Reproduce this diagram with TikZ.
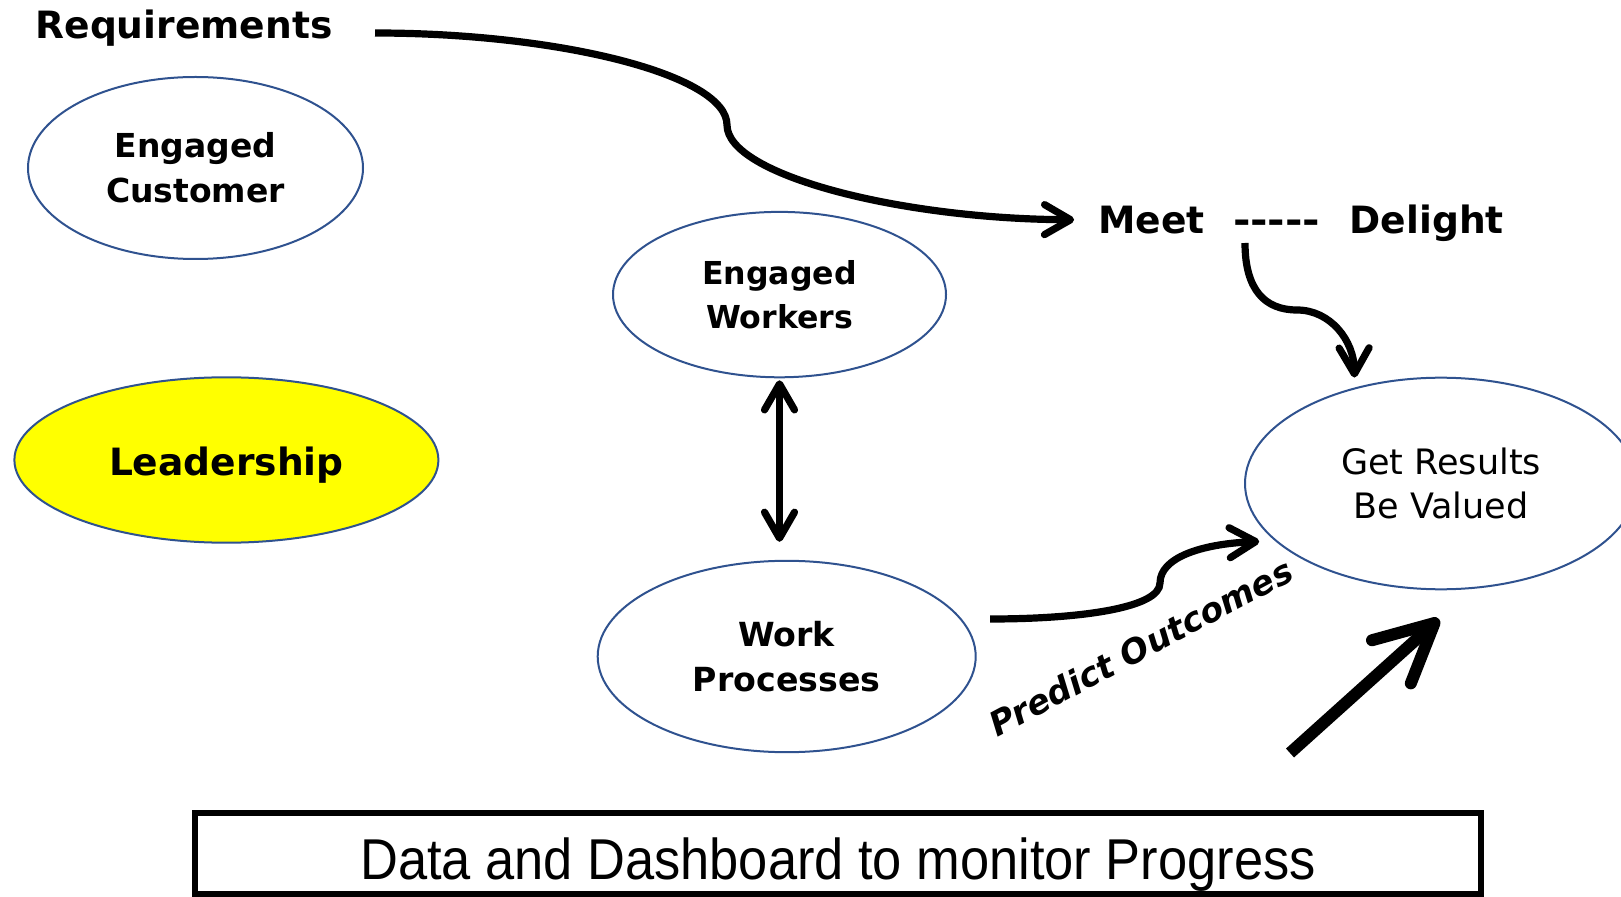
\documentclass[tikz,border=0pt]{standalone}
\usepackage{fontspec}
\setmainfont{DejaVu Sans}
\newfontfamily\boxfont{Liberation Sans}
\usetikzlibrary{shapes.geometric,arrows.meta}

\definecolor{rimblue}{RGB}{47,82,143}
\definecolor{leadyellow}{RGB}{255,255,0}

\tikzset{
  oval/.style={ellipse, draw=rimblue, line width=1pt, inner sep=0pt, align=center},
  headline/.style={font=\bfseries\fontsize{18.8}{22}\selectfont, inner sep=0pt, anchor=base},
  mybarb/.tip={Straight Barb[length=13pt,width=15pt,round]},
  bigbarb/.tip={Straight Barb[length=29pt,width=29pt,round]},
  flow/.style={line width=3.6pt, -{mybarb}},
}
% single hyphens kept apart so they never merge into dashes
\newcommand\hy{\hbox{-}}

\begin{document}
\begin{tikzpicture}[x=0.5pt,y=-0.5pt]
\useasboundingbox (0,0) rectangle (1621,897);

% ovals
\node[oval, minimum width=167.5pt, minimum height=91pt,
      font=\bfseries\fontsize{16.5}{22.6}\selectfont] (cust) at (195.5,168) {Engaged\\Customer};
\node[oval, fill=leadyellow, minimum width=212pt, minimum height=82.7pt,
      text height=16pt, text depth=0pt,
      font=\bfseries\fontsize{18.8}{22}\selectfont] (lead) at (226.4,460) {Leadership};
\node[oval, minimum width=166.5pt, minimum height=82.7pt,
      font=\bfseries\fontsize{15.8}{22.2}\selectfont] (work) at (779.5,294.6) {Engaged\\Workers};
\node[oval, minimum width=189pt, minimum height=95.7pt,
      font=\bfseries\fontsize{16.6}{22.4}\selectfont] (proc) at (786.7,656.5) {Work\\Processes};
\node[oval, minimum width=196pt, minimum height=105.8pt,
      font=\fontsize{17.5}{22.2}\selectfont] (res) at (1441,483.5) {Get Results\\Be Valued};

% headings
\node[headline] (req) at (184,38.3) {Requirements};
\node[headline] (meet) at (1151.7,233.3) {Meet};
\node[headline] (dash) at (1276.7,233.3) {\scalebox{1.12}[1]{\hy\hy\hy\hy\hy}};
\node[headline] (delight) at (1426.7,233.3) {Delight};

% label along the prediction arrow
\node[font=\bfseries\itshape\fontsize{16.9}{20}\selectfont, rotate=28, inner sep=0pt]
  (pred) at (1141,647) {Predict Outcomes};

% bottom banner
\node[draw, line width=3pt, minimum width=643pt, minimum height=40.5pt, inner sep=0pt,
      text height=25.5pt, text depth=0pt,
      font=\boxfont\fontsize{28.8}{32}\selectfont] (board) at (838,853.5)
  {\scalebox{0.91}[1]{Data and Dashboard to monitor Progress}};

% connectors
\coordinate (reqstart) at (375,33);
\draw[flow, shorten >=12pt] (reqstart) .. controls (560,33) and (727,75) .. (727,125)
  .. controls (727,175) and (900,219) .. (meet.west);

\coordinate (dashstart) at (1245,243);
\draw[flow, shorten >=5pt] (dashstart) .. controls (1245,290) and (1265,310) .. (1297,310)
  .. controls (1330,310) and (1354,340) .. (res.132.5);

\draw[line width=3.6pt, {mybarb}-{mybarb}, shorten <=1pt, shorten >=9pt]
  (work.south) -- (work.south |- proc.north);

\coordinate (predstart) at (990,619);
\draw[flow, shorten >=7.75pt] (predstart) .. controls (1080,619) and (1160,608) .. (1160,583)
  .. controls (1160,558) and (1200,544) .. (res.199.5);

\coordinate (bigtail) at (1290,753);
\coordinate (bighead) at (1439,619);
\draw[line width=6pt, -{bigbarb}] (bigtail) -- (bighead);
\end{tikzpicture}
\end{document}
